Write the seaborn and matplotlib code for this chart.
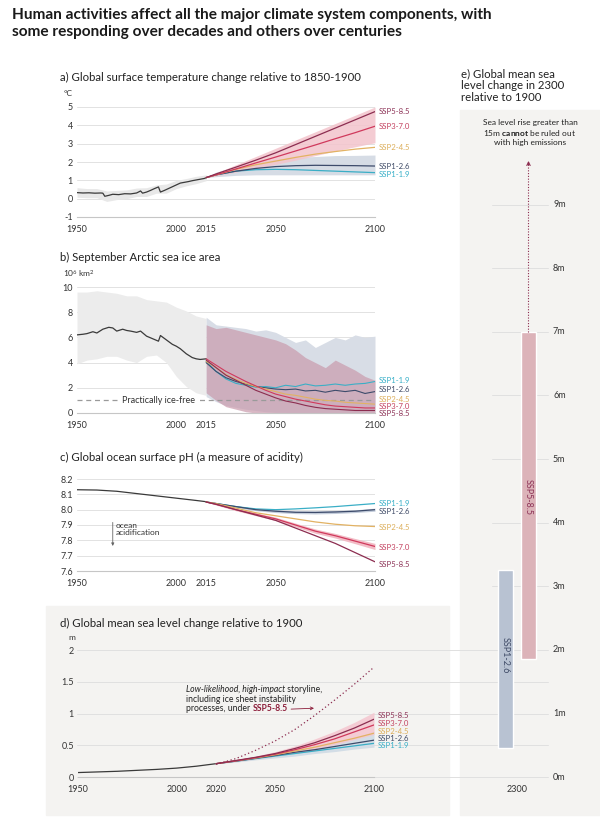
import matplotlib
matplotlib.use("Agg")
import matplotlib.pyplot as plt
import matplotlib.transforms as mtransforms
from matplotlib.patches import Rectangle
from matplotlib.ticker import FormatStrFormatter
import seaborn as sns

W, H = 600, 821

scenarios = ["SSP1-1.9", "SSP1-2.6", "SSP2-4.5", "SSP3-7.0", "SSP5-8.5"]
line_col = {"SSP1-1.9": "#3aaec6", "SSP1-2.6": "#3d4b6b", "SSP2-4.5": "#e2b263",
            "SSP3-7.0": "#d0395c", "SSP5-8.5": "#8c2d50"}
text_col = {"SSP1-1.9": "#35aec7", "SSP1-2.6": "#3e4a66", "SSP2-4.5": "#dcae5a",
            "SSP3-7.0": "#c3415f", "SSP5-8.5": "#8d3357"}
hist_col = "#3a3a3a"

# a) global surface temperature change (degC)
temp_hist_years = [1950, 1953, 1956, 1959, 1962, 1963, 1964, 1966, 1968, 1971, 1974, 1977, 1980, 1982,
                   1983, 1985, 1987, 1989, 1991, 1992, 1994, 1996, 1998, 2000, 2002, 2004, 2006, 2008,
                   2010, 2012, 2014, 2015]
temp_hist = [0.33, 0.31, 0.32, 0.30, 0.31, 0.30, 0.13, 0.18, 0.24, 0.22, 0.27, 0.26, 0.31, 0.42,
             0.30, 0.36, 0.45, 0.55, 0.64, 0.36, 0.45, 0.55, 0.65, 0.75, 0.85, 0.89, 0.93, 0.98,
             1.02, 1.06, 1.10, 1.14]
temp_band_years = [1950, 1955, 1960, 1965, 1970, 1975, 1980, 1985, 1990, 1995, 2000, 2005, 2010, 2015]
temp_band_hi = [0.6, 0.55, 0.55, 0.42, 0.45, 0.48, 0.58, 0.6, 0.75, 0.8, 1.0, 1.1, 1.22, 1.3]
temp_band_lo = [0.08, 0.05, 0.05, -0.15, -0.05, 0.0, 0.12, 0.12, 0.3, 0.3, 0.55, 0.7, 0.82, 0.98]
temp_proj_years = [2015, 2020, 2030, 2040, 2050, 2060, 2070, 2080, 2090, 2100]
temp_ssp119 = [1.15, 1.3, 1.5, 1.58, 1.6, 1.58, 1.54, 1.5, 1.46, 1.42]
temp_ssp126 = [1.15, 1.3, 1.5, 1.65, 1.75, 1.8, 1.82, 1.81, 1.8, 1.78]
temp_ssp245 = [1.15, 1.3, 1.6, 1.85, 2.05, 2.25, 2.43, 2.57, 2.7, 2.8]
temp_ssp370 = [1.15, 1.3, 1.62, 1.95, 2.27, 2.6, 2.93, 3.27, 3.6, 3.95]
temp_ssp585 = [1.15, 1.35, 1.72, 2.1, 2.5, 2.95, 3.4, 3.85, 4.3, 4.75]
temp_blue_lo = [1.15, 1.2, 1.27, 1.3, 1.3, 1.3, 1.3, 1.3, 1.3, 1.3]
temp_blue_hi = [1.15, 1.45, 1.75, 2.0, 2.15, 2.25, 2.3, 2.35, 2.36, 2.38]
temp_pink_lo = [1.15, 1.25, 1.45, 1.65, 1.87, 2.1, 2.35, 2.6, 2.83, 3.05]
temp_pink_hi = [1.15, 1.4, 1.85, 2.3, 2.75, 3.2, 3.65, 4.1, 4.55, 5.0]

# b) September Arctic sea ice area (10^6 km2)
ice_hist_years = [1950, 1953, 1955, 1958, 1960, 1963, 1966, 1968, 1970, 1973, 1975, 1977, 1980, 1982,
                  1985, 1988, 1991, 1992, 1995, 1998, 2000, 2002, 2005, 2008, 2010, 2012, 2015]
ice_hist = [6.2, 6.25, 6.3, 6.45, 6.35, 6.65, 6.8, 6.75, 6.5, 6.65, 6.55, 6.5, 6.4, 6.5,
            6.1, 5.9, 5.7, 6.15, 5.8, 5.45, 5.3, 5.1, 4.7, 4.4, 4.3, 4.25, 4.3]
ice_band_years = [1950, 1955, 1960, 1965, 1970, 1975, 1980, 1985, 1990, 1995, 2000, 2005, 2010, 2015]
ice_band_hi = [9.6, 9.6, 9.7, 9.6, 9.5, 9.3, 9.3, 9.0, 8.9, 8.8, 8.4, 8.1, 7.7, 7.5]
ice_band_lo = [3.9, 4.2, 4.3, 4.5, 4.5, 4.2, 4.0, 4.5, 4.6, 4.0, 2.9, 2.1, 1.6, 1.4]
ice_proj_years = [2015, 2020, 2025, 2030, 2035, 2040, 2045, 2050, 2055, 2060, 2065, 2070, 2075,
                  2080, 2085, 2090, 2095, 2100]
ice_ssp119 = [4.1, 3.3, 2.7, 2.35, 2.2, 2.05, 2.1, 2.0, 2.2, 2.1, 2.3, 2.15, 2.2, 2.3, 2.2, 2.3, 2.35, 2.5]
ice_ssp126 = [4.0, 3.3, 2.8, 2.5, 2.3, 2.1, 2.0, 1.9, 1.85, 1.9, 1.75, 1.8, 1.65, 1.8, 1.7, 1.8, 1.55, 1.7]
ice_ssp245 = [4.1, 3.6, 3.05, 2.65, 2.35, 2.1, 1.9, 1.7, 1.5, 1.4, 1.25, 1.1, 1.0, 0.95, 0.85, 0.8, 0.75, 0.7]
ice_ssp370 = [4.3, 3.8, 3.3, 2.9, 2.5, 2.15, 1.8, 1.5, 1.3, 1.1, 0.95, 0.8, 0.65, 0.55, 0.5, 0.45, 0.4, 0.4]
ice_ssp585 = [4.2, 3.6, 3.0, 2.6, 2.2, 1.8, 1.5, 1.2, 0.95, 0.8, 0.6, 0.45, 0.35, 0.3, 0.25, 0.2, 0.2, 0.2]
ice_blue_hi = [7.6, 7.0, 6.9, 6.8, 6.7, 6.5, 6.6, 6.4, 6.0, 5.6, 5.8, 5.2, 5.6, 6.0, 5.8, 6.2, 6.0, 6.1]
ice_blue_lo = [1.3, 0.9, 0.6, 0.45, 0.3, 0.2, 0.1, 0.05, 0.05, 0.0, 0.0, 0.0, 0.0, 0.0, 0.0, 0.0, 0.0, 0.0]
ice_pink_hi = [7.0, 6.7, 6.8, 6.6, 6.4, 6.2, 6.0, 5.8, 5.5, 5.0, 4.4, 4.0, 3.6, 4.2, 3.8, 3.4, 2.9, 2.6]
ice_pink_lo = [1.6, 1.0, 0.5, 0.3, 0.1, 0.0, 0.0, 0.0, 0.0, 0.0, 0.0, 0.0, 0.0, 0.0, 0.0, 0.0, 0.0, 0.0]
ice_free = 1.0

# c) global ocean surface pH
ph_hist_years = [1950, 1960, 1970, 1980, 1990, 2000, 2010, 2015]
ph_hist = [8.13, 8.128, 8.12, 8.105, 8.09, 8.075, 8.06, 8.052]
ph_proj_years = [2015, 2020, 2030, 2040, 2050, 2060, 2070, 2080, 2090, 2100]
ph_ssp119 = [8.05, 8.04, 8.02, 8.005, 8.0, 8.005, 8.012, 8.02, 8.03, 8.04]
ph_ssp126 = [8.05, 8.04, 8.02, 8.0, 7.99, 7.983, 7.982, 7.985, 7.99, 8.0]
ph_ssp245 = [8.05, 8.04, 8.01, 7.98, 7.96, 7.94, 7.92, 7.905, 7.895, 7.89]
ph_ssp370 = [8.05, 8.035, 8.0, 7.97, 7.94, 7.9, 7.86, 7.83, 7.795, 7.76]
ph_ssp585 = [8.05, 8.035, 8.0, 7.965, 7.93, 7.88, 7.83, 7.78, 7.72, 7.66]
ph_blue_lo = [8.05, 8.037, 8.014, 7.993, 7.981, 7.974, 7.972, 7.975, 7.981, 7.99]
ph_blue_hi = [8.05, 8.043, 8.026, 8.007, 7.999, 7.992, 7.992, 7.995, 7.999, 8.01]
ph_pink_lo = [8.05, 8.03, 7.993, 7.961, 7.929, 7.888, 7.846, 7.815, 7.778, 7.74]
ph_pink_hi = [8.05, 8.04, 8.007, 7.979, 7.951, 7.912, 7.874, 7.845, 7.812, 7.78]

# d) global mean sea level change relative to 1900 (m)
sl_hist_years = [1950, 1960, 1970, 1980, 1990, 2000, 2010, 2020]
sl_hist = [0.07, 0.08, 0.09, 0.105, 0.12, 0.14, 0.17, 0.21]
sl_proj_years = [2020, 2030, 2040, 2050, 2060, 2070, 2080, 2090, 2100]
sl_ssp119 = [0.21, 0.25, 0.29, 0.33, 0.37, 0.41, 0.45, 0.49, 0.53]
sl_ssp126 = [0.21, 0.25, 0.295, 0.34, 0.39, 0.43, 0.48, 0.53, 0.58]
sl_ssp245 = [0.21, 0.255, 0.30, 0.35, 0.41, 0.47, 0.54, 0.61, 0.69]
sl_ssp370 = [0.21, 0.255, 0.305, 0.36, 0.43, 0.51, 0.60, 0.71, 0.82]
sl_ssp585 = [0.21, 0.26, 0.31, 0.37, 0.45, 0.54, 0.65, 0.77, 0.91]
sl_blue_lo = [0.21, 0.235, 0.27, 0.30, 0.33, 0.37, 0.40, 0.44, 0.47]
sl_blue_hi = [0.21, 0.26, 0.31, 0.36, 0.42, 0.48, 0.55, 0.62, 0.72]
sl_pink_lo = [0.21, 0.245, 0.285, 0.33, 0.38, 0.44, 0.51, 0.59, 0.67]
sl_pink_hi = [0.21, 0.27, 0.33, 0.40, 0.49, 0.60, 0.72, 0.86, 1.02]
sl_storyline = [0.20, 0.29, 0.42, 0.57, 0.75, 0.97, 1.21, 1.46, 1.73]

# e) sea level change in 2300 (m)
sl2300_names = ["SSP1-2.6", "SSP5-8.5"]
sl2300_lo = [0.45, 1.86]
sl2300_hi = [3.25, 7.0]
sl2300_max_arrow = 9.73

temp_proj = dict(zip(scenarios, [temp_ssp119, temp_ssp126, temp_ssp245, temp_ssp370, temp_ssp585]))
ice_proj = dict(zip(scenarios, [ice_ssp119, ice_ssp126, ice_ssp245, ice_ssp370, ice_ssp585]))
ph_proj = dict(zip(scenarios, [ph_ssp119, ph_ssp126, ph_ssp245, ph_ssp370, ph_ssp585]))
sl_proj = dict(zip(scenarios, [sl_ssp119, sl_ssp126, sl_ssp245, sl_ssp370, sl_ssp585]))

sns.set_theme(style="white")
plt.rcParams["font.family"] = ["Lato", "DejaVu Sans"]
plt.rcParams["axes.unicode_minus"] = False
plt.rcParams["mathtext.fontset"] = "custom"
plt.rcParams["mathtext.rm"] = "Lato"
plt.rcParams["mathtext.bf"] = "Lato:bold"
plt.rcParams["mathtext.it"] = "Lato:italic"

fig = plt.figure(figsize=(W / 100, H / 100), dpi=100)
fig.patch.set_facecolor("white")

panel_bg = "#f4f3f1"
fig.patches.append(Rectangle((46 / W, 1 - 815 / H), (449 - 46) / W, (815 - 606) / H,
                             transform=fig.transFigure, color=panel_bg, zorder=-5))
fig.patches.append(Rectangle((460 / W, 1 - 815 / H), (600 - 460) / W, (815 - 110) / H,
                             transform=fig.transFigure, color=panel_bg, zorder=-5))


def place(x0, x1, ylo, yhi):
    return fig.add_axes([x0 / W, 1 - ylo / H, (x1 - x0) / W, (ylo - yhi) / H])


def style(ax, majors, labels, grid=True):
    for s in ["top", "right", "left"]:
        ax.spines[s].set_visible(False)
    ax.spines["bottom"].set_color("#c6c6c6")
    ax.spines["bottom"].set_linewidth(0.8)
    ax.set_xticks(majors)
    ax.set_xticklabels(labels)
    ax.set_xticks(list(range(1960, 2100, 10)), minor=True)
    ax.tick_params(axis="x", which="both", direction="in", length=3, width=0.6, color="#c6c6c6",
                   labelsize=6.5, pad=6, labelcolor="#333333")
    ax.tick_params(axis="y", length=0, labelsize=6.5, pad=3, labelcolor="#333333")
    if grid:
        ax.grid(axis="y", color="#e2e2e2", lw=0.7)
    ax.set_axisbelow(True)
    ax.set_facecolor("none")
    ax.set_xlabel("")
    ax.set_ylabel("")
    ax.set_xlim(1950, 2100)


def line(ax, x, y, color, lw=0.9, **kw):
    sns.lineplot(x=x, y=y, color=color, linewidth=lw, ax=ax, **kw)


def title(x, y, s):
    fig.text(x / W, 1 - y / H, s, fontsize=8.2, color="#222222", va="center", ha="left")


def unit(x, y, s):
    fig.text(x / W, 1 - y / H, s, fontsize=6, color="#333333", va="center", ha="left")


def ssp_labels(ax, ys):
    for name, yv in zip(scenarios, ys):
        ax.text(2101.8, yv, name, fontsize=5.6, color=text_col[name], va="center", ha="left",
                clip_on=False)


fig.text(12 / W, 1 - 8 / H,
         "Human activities affect all the major climate system components, with\n"
         "some responding over decades and others over centuries",
         fontsize=11.1, weight="bold", color="#1a1a1a", va="top", ha="left", linespacing=1.25)

ticks_a = [1950, 2000, 2015, 2050, 2100]

# ---- a) temperature
ax = place(77, 375, 217, 107)
ax.fill_between(temp_band_years, temp_band_lo, temp_band_hi, color="#e8e8e8", lw=0)
ax.fill_between(temp_proj_years, temp_blue_lo, temp_blue_hi, color="#d6dce5", lw=0)
ax.fill_between(temp_proj_years, temp_pink_lo, temp_pink_hi, color="#f3c4cc", alpha=0.85, lw=0)
line(ax, temp_hist_years, temp_hist, hist_col)
for name in scenarios:
    line(ax, temp_proj_years, temp_proj[name], line_col[name])
ax.set_ylim(-1, 5)
ax.set_yticks(range(-1, 6))
style(ax, ticks_a, ticks_a)
ssp_labels(ax, [1.3, 1.75, 2.8, 3.95, 4.75])
title(60, 77, "a) Global surface temperature change relative to 1850-1900")
unit(64, 94, "°C")

# ---- b) sea ice
ax = place(77, 375, 413, 287)
ax.fill_between(ice_band_years, ice_band_lo, ice_band_hi, color="#ececec", lw=0)
ax.fill_between(ice_proj_years, ice_blue_lo, ice_blue_hi, color="#d8dde6", lw=0)
ax.fill_between(ice_proj_years, ice_pink_lo, ice_pink_hi, color="#c99aac", alpha=0.7, lw=0)
ax.axhline(ice_free, color="#9a9a9a", lw=0.9, dashes=(4, 3), zorder=1.5)
ax.text(1991, ice_free, "Practically ice-free", fontsize=6.5, color="#333333", ha="center",
        va="center", bbox=dict(facecolor="white", edgecolor="none", pad=1.2), zorder=1.6)
line(ax, ice_hist_years, ice_hist, hist_col)
for name in scenarios:
    line(ax, ice_proj_years, ice_proj[name], line_col[name], lw=0.8)
ax.set_ylim(0, 10)
ax.set_yticks(range(0, 11, 2))
style(ax, ticks_a, ticks_a)
ssp_labels(ax, [2.55, 1.9, 1.1, 0.55, 0.0])
title(60, 257, "b) September Arctic sea ice area")
unit(63, 273, r"10$^6$ km$^2$")

# ---- c) pH
ax = place(77, 375, 571, 479)
ax.fill_between(ph_proj_years, ph_blue_lo, ph_blue_hi, color="#c3ccda", lw=0)
ax.fill_between(ph_proj_years, ph_pink_lo, ph_pink_hi, color="#f2bcc6", lw=0)
line(ax, ph_hist_years, ph_hist, hist_col)
for name in scenarios:
    line(ax, ph_proj_years, ph_proj[name], line_col[name])
ax.set_ylim(7.6, 8.2)
ax.set_yticks([7.6, 7.7, 7.8, 7.9, 8.0, 8.1, 8.2])
ax.yaxis.set_major_formatter(FormatStrFormatter("%.1f"))
style(ax, ticks_a, ticks_a)
ssp_labels(ax, [8.043, 7.99, 7.886, 7.75, 7.64])
ax.annotate("", xy=(1968, 7.745), xytext=(1968, 7.935),
            arrowprops=dict(arrowstyle="-|>", color="#666666", lw=0.6, mutation_scale=4))
ax.text(1969.3, 7.875, "ocean\nacidification", fontsize=6, color="#333333", va="center",
        ha="left", linespacing=1.0)
title(60, 457, "c) Global ocean surface pH (a measure of acidity)")

# ---- d) sea level to 2100
ax_d = place(78, 374, 777, 650)
trans_d = mtransforms.blended_transform_factory(fig.transFigure, ax_d.transData)
for g in [0, 0.5, 1, 1.5, 2]:
    ax_d.plot([77 / W, 548 / W], [g, g], transform=trans_d, color="#e0e0e0", lw=0.7,
              clip_on=False, zorder=0.5)
ax_d.fill_between(sl_proj_years, sl_blue_lo, sl_blue_hi, color="#d3dde6", lw=0)
ax_d.fill_between(sl_proj_years, sl_pink_lo, sl_pink_hi, color="#f5c6cf", alpha=0.85, lw=0)
line(ax_d, sl_hist_years, sl_hist, hist_col)
for name in scenarios:
    line(ax_d, sl_proj_years, sl_proj[name], line_col[name])
line(ax_d, sl_proj_years, sl_storyline, "#8c2d50", lw=0.9, linestyle=(0, (1, 2)))
ax_d.set_ylim(0, 2)
ax_d.set_yticks([0, 0.5, 1, 1.5, 2])
ax_d.set_yticklabels(["0", "0.5", "1", "1.5", "2"])
ticks_d = [1950, 2000, 2020, 2050, 2100]
style(ax_d, ticks_d, ticks_d, grid=False)
ssp_labels(ax_d, [0.49, 0.61, 0.72, 0.85, 0.975])
title(60, 623, "d) Global mean sea level change relative to 1900")
unit(68, 637, "m")

t1 = fig.text(186 / W, 1 - 689 / H, "Low-likelihood, high-impact", fontsize=6.2, style="italic",
              color="#222222", va="center", ha="left")
ax_d.annotate(" storyline,", xy=(1, 0), xycoords=t1, fontsize=6.2, color="#222222",
              va="bottom", ha="left")
fig.text(186 / W, 1 - 699 / H, "including ice sheet instability", fontsize=6.2,
         color="#222222", va="center", ha="left")
t3 = fig.text(186 / W, 1 - 708.5 / H, "processes, under ", fontsize=6.2, color="#222222",
              va="center", ha="left")
t4 = ax_d.annotate("SSP5-8.5", xy=(1, 0), xycoords=t3, fontsize=6.2, weight="bold",
                   color="#8c1d3a", va="bottom", ha="left")
ax_d.annotate("", xy=(2071, 1.085), xycoords="data", xytext=(1.02, 0.42), textcoords=t4,
              arrowprops=dict(arrowstyle="->", color="#8c1d3a", lw=0.6, mutation_scale=5))

# ---- e) sea level in 2300
ax_e = place(460, 600, 777, 141)
ax_e.set_xlim(-1.978, 4.109)
ax_e.set_ylim(0, 10)
ax_e.set_facecolor("none")
for s in ax_e.spines.values():
    s.set_visible(False)
trans_e = mtransforms.blended_transform_factory(fig.transFigure, ax_e.transData)
for g in range(3, 10):
    ax_e.plot([492 / W, 548 / W], [g, g], transform=trans_e, color="#e0e0e0", lw=0.7,
              clip_on=False, zorder=0.5)
for g in range(0, 10):
    ax_e.text(553 / W, g, f"{g}m", transform=trans_e, fontsize=6.5, color="#333333",
              va="center", ha="left")
bar_cols = ["#b8c2d2", "#dcb3b9"]
bar_text = ["#3e4a66", "#8d3357"]
bar_label_y = [1.92, 4.4]
bar_x = list(range(len(sl2300_names)))
ax_e.bar(bar_x, [h - l for l, h in zip(sl2300_lo, sl2300_hi)], bottom=sl2300_lo, width=0.65,
         color=bar_cols, zorder=2)
for xi, name, tc, yl in zip(bar_x, sl2300_names, bar_text, bar_label_y):
    ax_e.text(xi, yl, name, rotation=270, fontsize=6.5, color=tc, ha="center", va="center",
              zorder=3)
ax_e.plot([1, 1], [sl2300_hi[1], sl2300_max_arrow - 0.05], color="#8c2d50", lw=0.8,
          linestyle=(0, (1, 1.5)), zorder=2)
ax_e.annotate("", xy=(1, sl2300_max_arrow), xytext=(1, sl2300_max_arrow - 0.15),
              arrowprops=dict(arrowstyle="->", color="#8c2d50", lw=0.8, mutation_scale=6))
ax_e.set_xticks([0.5])
ax_e.set_xticklabels(["2300"])
ax_e.set_yticks([])
ax_e.tick_params(axis="x", direction="in", length=3, width=0.6, color="#c6c6c6", labelsize=6.5,
                 pad=6, labelcolor="#333333")
fig.text(461 / W, 1 - 68 / H, "e) Global mean sea\nlevel change in 2300\nrelative to 1900",
         fontsize=8.2, color="#222222", va="top", ha="left", linespacing=1.1)
fig.text(530 / W, 1 - 123 / H, "Sea level rise greater than", fontsize=6, color="#222222",
         ha="center", va="center")
fig.text(530 / W, 1 - 133 / H, r"15m $\mathbf{cannot}$ be ruled out", fontsize=6,
         color="#222222", ha="center", va="center")
fig.text(530 / W, 1 - 143 / H, "with high emissions", fontsize=6, color="#222222",
         ha="center", va="center")

fig.savefig("out.png", dpi=100)
